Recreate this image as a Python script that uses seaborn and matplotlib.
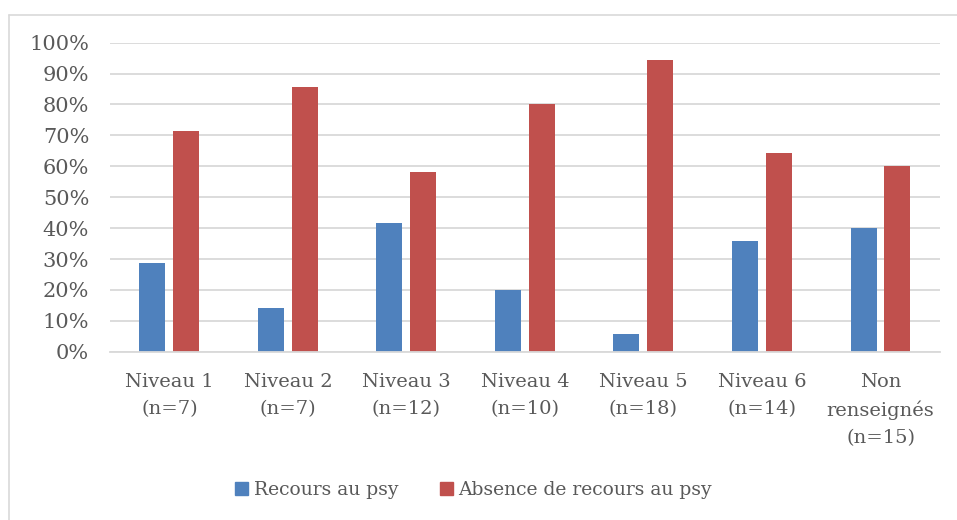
import pandas as pd
import matplotlib.pyplot as plt
import seaborn as sns
from matplotlib.lines import Line2D

# Data
categories = ["Niveau 1\n(n=7)", "Niveau 2\n(n=7)", "Niveau 3\n(n=12)", "Niveau 4\n(n=10)",
              "Niveau 5\n(n=18)", "Niveau 6\n(n=14)", "Non\nrenseignés\n(n=15)"]
recours = [28.6, 14.3, 41.7, 20.0, 5.6, 35.7, 40.0]
absence = [71.4, 85.7, 58.3, 80.0, 94.4, 64.3, 60.0]
series = ["Recours au psy", "Absence de recours au psy"]
colors = ["#4F81BD", "#C0504D"]

df = pd.DataFrame({
    "cat": categories * 2,
    "val": recours + absence,
    "serie": [series[0]] * len(categories) + [series[1]] * len(categories),
})

sns.set_style("white")
plt.rcParams["font.family"] = ["DejaVu Serif"]
text_color = "#595959"
grid_color = "#D9D9D9"

fig = plt.figure(figsize=(9.57, 5.2), dpi=100)
ax = fig.add_axes([0.115, 0.3236, 0.867, 0.5944])

sns.barplot(data=df, x="cat", y="val", hue="serie", palette=colors,
            width=0.573, gap=0.235, ax=ax, legend=False, saturation=1, linewidth=0)

ax.set_ylim(0, 100)
ax.set_xlim(-0.5, len(categories) - 0.5)
ax.set_yticks(range(0, 101, 10))
ax.set_yticklabels([f"{v}%" for v in range(0, 101, 10)])
ax.set_xlabel("")
ax.set_ylabel("")
ax.yaxis.grid(True, color=grid_color, linewidth=1.3)
ax.set_axisbelow(True)
for s in ["top", "right", "left"]:
    ax.spines[s].set_visible(False)
ax.spines["bottom"].set_color(grid_color)
ax.spines["bottom"].set_linewidth(1.3)
ax.tick_params(axis="y", length=0, pad=15, labelsize=15, labelcolor=text_color)
ax.tick_params(axis="x", length=0, pad=15, labelsize=14, labelcolor=text_color)
for lbl in ax.get_xticklabels():
    lbl.set_linespacing(1.65)

# chart border
fig.add_artist(Line2D([8.5 / 957, 8.5 / 957], [0, 1 - 14.5 / 520], color=grid_color, lw=1.2))
fig.add_artist(Line2D([8.5 / 957, 1], [1 - 14.5 / 520, 1 - 14.5 / 520], color=grid_color, lw=1.2))

handles = [plt.Rectangle((0, 0), 1, 1, color=c) for c in colors]
fig.legend(handles, series, loc="center", bbox_to_anchor=(0.495, 1 - 490 / 520), ncol=2,
           frameon=False, fontsize=13.5, labelcolor=text_color, handlelength=0.7, handleheight=0.7,
           handletextpad=0.3, columnspacing=2.2)

fig.savefig("out.png", dpi=100)
